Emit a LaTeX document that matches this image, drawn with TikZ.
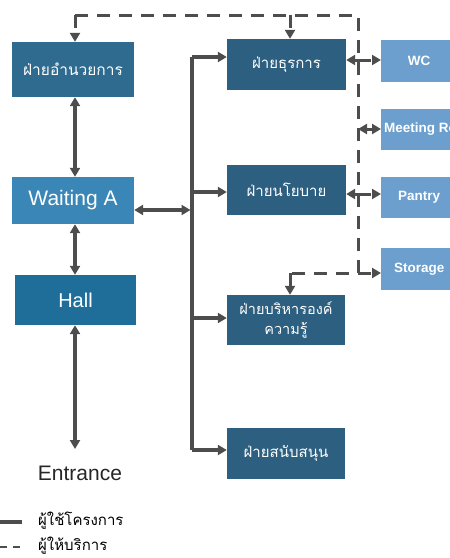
\documentclass[tikz,border=0pt]{standalone}
\usepackage{fontspec}
\setmainfont{Liberation Sans}
\newfontfamily\thaifont[Script=Thai]{Loma}
\usetikzlibrary{arrows.meta}
\definecolor{admincol}{HTML}{2F6A8F}
\definecolor{waitcol}{HTML}{3A86B6}
\definecolor{hallcol}{HTML}{1E6E99}
\definecolor{deptcol}{HTML}{2D5F80}
\definecolor{servcol}{HTML}{6C9FCD}
\definecolor{linecol}{HTML}{4D4D4D}
\begin{document}
\begin{tikzpicture}[x=1pt,y=-1pt,
  blk/.style={fill=#1, text=white, inner sep=3pt, align=center},
  mainbox/.style={blk=#1, font=\fontsize{21}{24}\selectfont},
  deptbox/.style={blk=deptcol, minimum width=119pt, font=\thaifont\fontsize{15}{19}\selectfont},
  servbox/.style={blk=servcol, minimum width=76pt, anchor=west, font=\bfseries\fontsize{13.5}{16}\selectfont},
  tip/.style={-{Triangle[length=9pt,width=10pt]}},
  dualtip/.style={{Triangle[length=9pt,width=10pt]}-{Triangle[length=9pt,width=10pt]}},
  userline/.style={draw=linecol, line width=3.5pt},
  staffline/.style={draw=linecol, line width=3pt, dash pattern=on 13pt off 9pt},
  legendtext/.style={anchor=west, inner sep=0pt, font=\thaifont\fontsize{15}{17}\selectfont},
]
\useasboundingbox (0,0) rectangle (450,558);
\clip (0,0) rectangle (450,558);

% ---- left column
\node[mainbox=admincol, minimum width=122pt, minimum height=55pt,
      font=\thaifont\fontsize{15.5}{18}\selectfont] (admin) at (73,69.5) {ฝ่ายอำนวยการ};
\node[mainbox=waitcol, minimum width=122pt, minimum height=47pt] (wait) at (73,200.5) {Waiting A};
\node[mainbox=hallcol, minimum width=121pt, minimum height=50pt,
      font=\fontsize{20}{23}\selectfont] (hall) at (75.5,300) {Hall};
\node[font=\fontsize{21}{24}\selectfont, text=black!85] (entr) at (80,473) {Entrance};

% ---- departments
\node[deptbox, minimum height=51pt] (d1) at (286.5,64.5) {ฝ่ายธุรการ};
\node[deptbox, minimum height=50pt] (d2) at (286.5,190) {ฝ่ายนโยบาย};
\node[deptbox, minimum height=50pt, minimum width=118pt,
      font=\thaifont\fontsize{14.5}{20}\selectfont] (d3) at (286,320) {ฝ่ายบริหารองค์\\ความรู้};
\node[deptbox, minimum height=51pt, minimum width=118pt] (d4) at (286,453.5) {ฝ่ายสนับสนุน};

% ---- services
\node[servbox, minimum height=42pt] (wc) at (381,61) {WC};
\node[servbox, minimum height=41pt] (meet) at (381,129.5) {Meeting Room};
\node[servbox, minimum height=41pt] (pantry) at (381,197.5) {Pantry};
\node[servbox, minimum height=42pt] (store) at (381,269) {Storage};

% ---- user circulation (solid)
\coordinate (colx) at (75,0);
\coordinate (entrtop) at (75,449);
\coordinate (bustop) at (192,57);
\coordinate (busmid) at (192,210);
\coordinate (bus2) at (192,192);
\coordinate (bus3) at (192,318);
\coordinate (busbot) at (192,450);

\draw[userline, dualtip] (admin.south -| colx) -- (wait.north -| colx);
\draw[userline, dualtip] (wait.south -| colx) -- (hall.north -| colx);
\draw[userline, dualtip] (hall.south -| colx) -- (entrtop);
\draw[userline] (bustop) -- (busbot);
\draw[userline, dualtip] (wait.east |- busmid) -- ([xshift=-1.5pt]busmid);
\draw[userline, tip] (bustop) -- (bustop -| d1.west);
\draw[userline, tip] (bus2) -- (bus2 -| d2.west);
\draw[userline, tip] (bus3) -- (bus3 -| d3.west);
\draw[userline, tip] (busbot) -- (busbot -| d4.west);

% ---- staff circulation (dashed)
\coordinate (sl) at (75,15);
\coordinate (sm) at (290,15);
\coordinate (sr) at (358,15);
\coordinate (sb) at (358,273);
\coordinate (sk) at (290,273);
\coordinate (s1) at (358,60);
\coordinate (s2) at (358,129);
\coordinate (s3) at (358,194);

\draw[staffline] (sl) -- (sr) -- (sb) -- (sk);
\draw[staffline, tip] (sl) -- (admin.north -| sl);
\draw[staffline, tip] (sm) -- (d1.north -| sm);
\draw[staffline, tip] (sk) -- (d3.north -| sk);
\draw[staffline, tip] (s1) -- (s1 -| wc.west);
\draw[staffline, tip] (s1) -- (s1 -| d1.east);
\draw[userline, line width=3pt, dualtip] (s2) -- (s2 -| meet.west);
\draw[staffline, tip] (s3) -- (s3 -| pantry.west);
\draw[staffline, tip] (s3) -- (s3 -| d2.east);
\draw[staffline, tip] (sb) -- (sb -| store.west);

% ---- legend
\coordinate (la) at (0,522);
\coordinate (lb) at (22,522);
\coordinate (lc) at (0,547);
\coordinate (ld) at (22,547);
\draw[userline] (la) -- (lb);
\draw[draw=linecol, line width=2.5pt, dash pattern=on 7pt off 6pt] (lc) -- (ld);
\node[legendtext] (luser) at (38,521) {ผู้ใช้โครงการ};
\node[legendtext] (lstaff) at (38,546) {ผู้ให้บริการ};
\end{tikzpicture}
\end{document}
